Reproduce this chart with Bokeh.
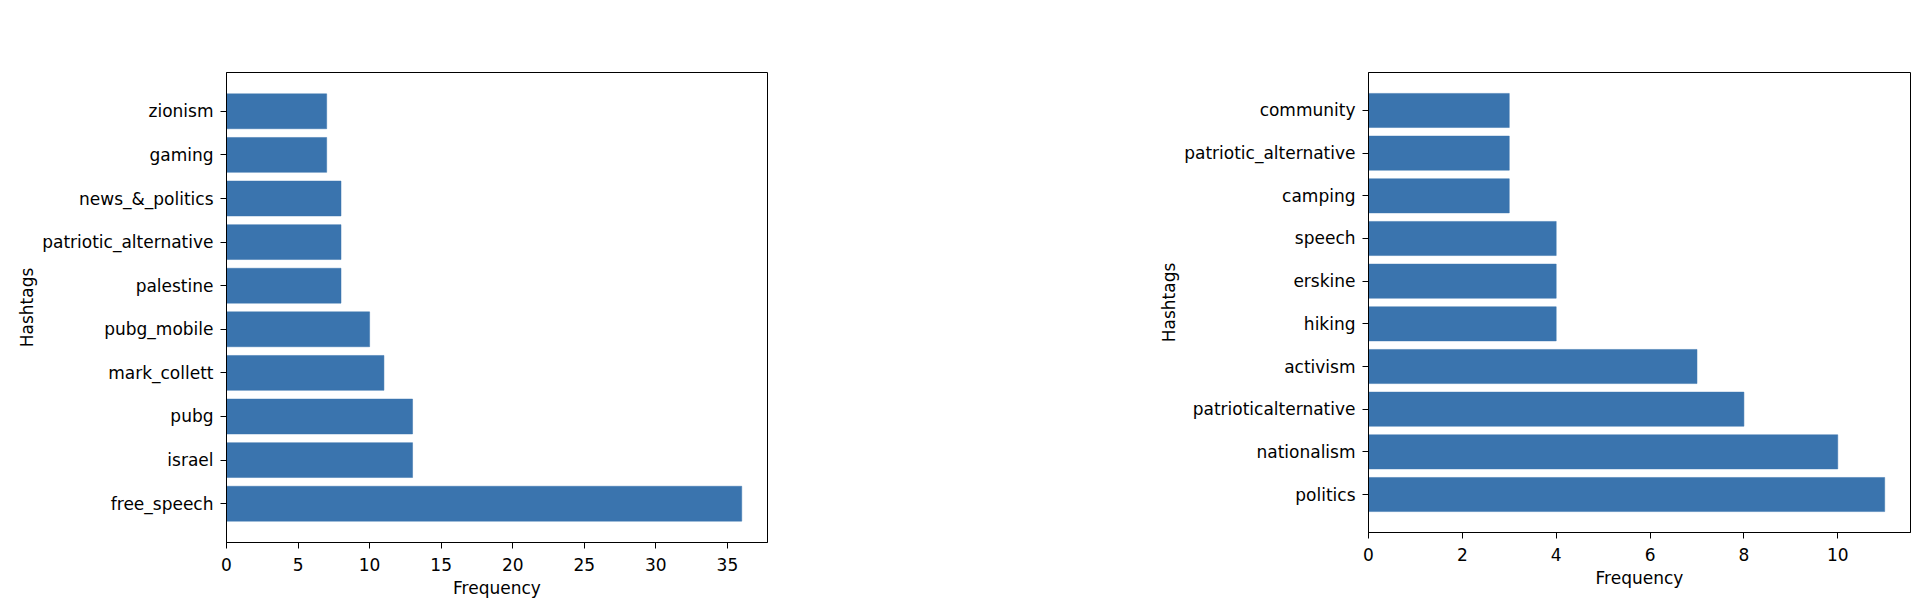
from bokeh.plotting import figure
from bokeh.layouts import row
from bokeh.models import Range1d, FixedTicker, SingleIntervalTicker, ColumnDataSource
from bokeh.embed import file_html
from bokeh.resources import INLINE

# ---- data (bottom to top) ----
left_tags = ["free_speech", "israel", "pubg", "mark_collett", "pubg_mobile",
             "palestine", "patriotic_alternative", "news_&_politics", "gaming", "zionism"]
left_counts = [36, 13, 13, 11, 10, 8, 8, 8, 7, 7]

right_tags = ["politics", "nationalism", "patrioticalternative", "activism", "hiking",
              "erskine", "speech", "camping", "patriotic_alternative", "community"]
right_counts = [11, 10, 8, 7, 4, 4, 4, 3, 3, 3]

x_label = "Frequency"
y_label = "Hashtags"

BAR_COLOR = "#3a74ae"
FONT = "DejaVu Sans"
FS = "17px"


def make_chart(tags, counts, interval, width, height, bl, br, bt, bb):
    n = len(tags)
    pos = list(range(n))
    span = (n - 1) + 0.8
    ymin = -0.4 - 0.05 * span
    ymax = (n - 1) + 0.4 + 0.05 * span
    src = ColumnDataSource(dict(y=pos, right=counts, tag=tags))
    p = figure(width=width, height=height, output_backend="svg", toolbar_location=None,
               x_range=Range1d(0, max(counts) * 1.05), y_range=Range1d(ymin, ymax),
               min_border_left=bl, min_border_right=br, min_border_top=bt, min_border_bottom=bb)
    p.hbar(y="y", right="right", left=0, height=0.8, source=src,
           fill_color=BAR_COLOR, line_color=BAR_COLOR, line_width=0.5)
    p.xgrid.grid_line_color = None
    p.ygrid.grid_line_color = None
    p.outline_line_color = "black"
    p.outline_line_alpha = 1.0
    p.outline_line_width = 1
    p.background_fill_color = "white"
    p.border_fill_color = "white"

    p.xaxis.ticker = SingleIntervalTicker(interval=interval, num_minor_ticks=0)
    p.yaxis.ticker = FixedTicker(ticks=pos)
    p.yaxis.major_label_overrides = {i: t for i, t in enumerate(tags)}

    for ax in (p.xaxis[0], p.yaxis[0]):
        ax.axis_line_color = "black"
        ax.major_tick_line_color = "black"
        ax.major_tick_in = 0
        ax.major_tick_out = 6
        ax.minor_tick_line_color = None
        ax.major_label_text_font = FONT
        ax.major_label_text_font_size = FS
        ax.major_label_text_color = "black"
        ax.axis_label_text_font = FONT
        ax.axis_label_text_font_size = FS
        ax.axis_label_text_font_style = "normal"
        ax.axis_label_text_color = "black"
    p.xaxis.axis_label = x_label
    p.yaxis.axis_label = y_label
    p.xaxis.major_label_standoff = 9
    p.xaxis.axis_label_standoff = 4
    p.yaxis.major_label_standoff = 7
    p.yaxis.axis_label_standoff = 2
    return p


left = make_chart(left_tags, left_counts, 5, 1100, 600, 226, 333, 72, 57)
right = make_chart(right_tags, right_counts, 2, 818, 590, 268, 8, 72, 57)

layout = row(left, right)
open("out.html", "w").write(file_html(layout, INLINE))
